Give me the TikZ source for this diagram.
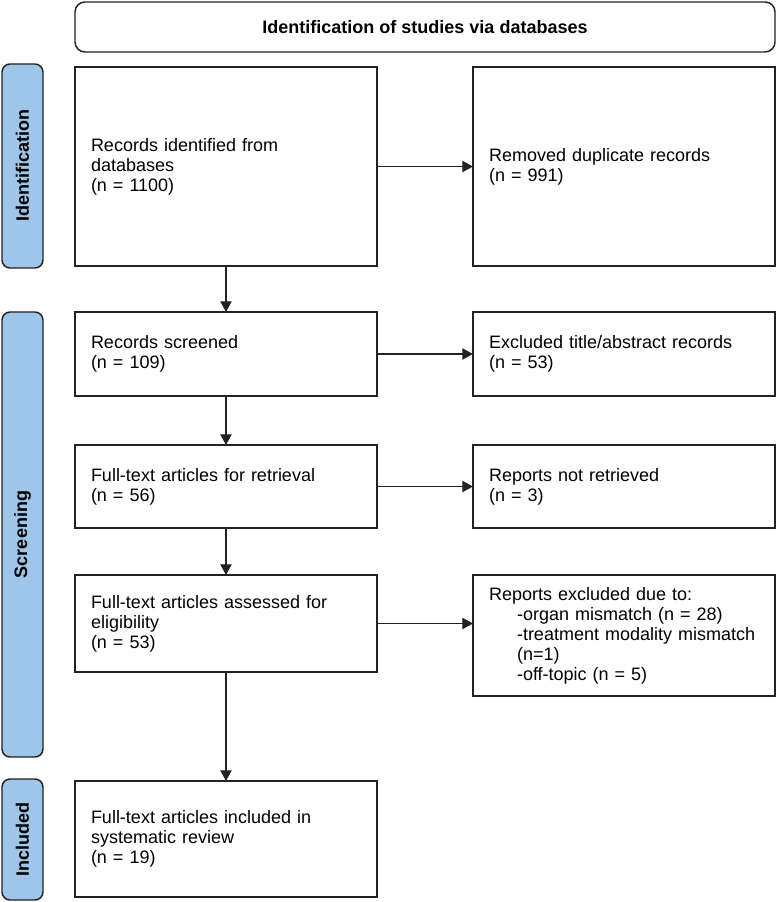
\documentclass[tikz,border=0pt]{standalone}
\usepackage{fontspec}
\setmainfont{Liberation Sans}
\usepackage{xcolor}
\usetikzlibrary{arrows.meta, positioning}
\definecolor{stagefill}{HTML}{9FC5E8}
\definecolor{edgegray}{HTML}{222222}
\tikzset{
  box/.style={rectangle, draw=edgegray, line width=1.1pt, fill=white, outer sep=0pt,
    text width=202.5pt, inner xsep=12pt, align=left,
    font=\fontsize{13.5}{15}\selectfont},
  header/.style={rectangle, draw=edgegray, line width=1.1pt, rounded corners=7.5pt, outer sep=0pt,
    minimum width=525pt, minimum height=37.5pt, font=\fontsize{13.5}{15}\selectfont\bfseries},
  stage/.style={rectangle, draw=edgegray, line width=1.1pt, rounded corners=6pt, outer sep=0pt,
    fill=stagefill, minimum height=30.75pt, rotate=90, anchor=south east,
    font=\fontsize{13.5}{15}\selectfont\bfseries},
  arrowline/.style={-{Triangle[length=8pt, width=8.5pt]}, line width=0.8pt, edgegray}
}

\begin{document}
\begin{tikzpicture}
  \useasboundingbox (-56.25pt,50.25pt) rectangle (527.25pt,-626.25pt);

  % left column
  \node[box, minimum height=149.25pt, anchor=north west] (ident) at (0,0) {Records identified from\\ databases\\ (n = 1100)};
  \node[box, minimum height=63pt, below=34.5pt of ident] (screen) {Records screened\\ (n = 109)};
  \node[box, minimum height=62.25pt, below=36.75pt of screen] (retr) {Full-text articles for retrieval\\ (n = 56)};
  \node[box, minimum height=72.75pt, below=35.25pt of retr] (elig) {Full-text articles assessed for\\ eligibility\\ (n = 53)};
  \node[box, minimum height=87pt, below=81.75pt of elig] (incl) {Full-text articles included in\\ systematic review\\ (n = 19)};

  % right column
  \node[box, minimum height=149.25pt, right=72pt of ident] (dup) {Removed duplicate records\\ (n = 991)};
  \node[box, minimum height=63pt, right=72pt of screen] (excl) {Excluded title/abstract records\\ (n = 53)};
  \node[box, minimum height=62.25pt, right=72pt of retr] (notretr) {Reports not retrieved\\ (n = 3)};
  \node[box, minimum height=90.75pt, right=72pt of elig.north east, anchor=north west] (reasons)
    {Reports excluded due to:\\
     \hspace*{21pt}-organ mismatch (n = 28)\\
     \hspace*{21pt}-treatment modality mismatch\\
     \hspace*{21pt}(n=1)\\
     \hspace*{21pt}-off-topic (n = 5)};

  % header and stages
  \node[header, above=11.25pt of ident.north west, anchor=south west] (title) {Identification of studies via databases};
  \node[stage, minimum width=153pt] (idbar) at ([xshift=-24pt, yshift=2.25pt]ident.north west) {Identification};
  \node[stage, minimum width=333.75pt] (scrbar) at ([xshift=-24pt]screen.north west) {Screening};
  \node[stage, minimum width=90.75pt] (incbar) at ([xshift=-24pt, yshift=1.5pt]incl.north west) {Included};

  \draw[arrowline] (ident) -- (screen);
  \draw[arrowline] (screen) -- (retr);
  \draw[arrowline] (retr) -- (elig);
  \draw[arrowline] (elig) -- (incl);
  \draw[arrowline] (ident) -- (dup);
  \draw[arrowline] (screen) -- (excl);
  \draw[arrowline] (retr) -- (notretr);
  \draw[arrowline] (elig.east) -- (elig.east -| reasons.west);
\end{tikzpicture}
\end{document}
